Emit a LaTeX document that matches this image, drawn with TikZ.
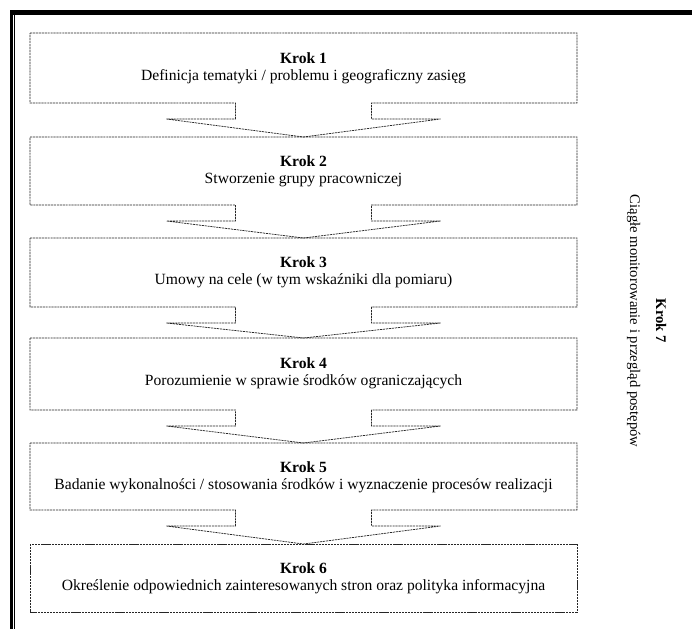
\documentclass[tikz,border=0pt]{standalone}
\usepackage{fontspec}
\setmainfont{Liberation Serif}
\begin{document}
\begin{tikzpicture}[x=0.75pt,y=-0.75pt,
  boxline/.style={draw=black!85,line width=0.55pt,dash pattern=on 1.6pt off 0.6pt},
  steptext/.style={align=center,font=\fontsize{11.7}{13}\selectfont,inner sep=0pt},
  sidetext/.style={align=center,font=\fontsize{11}{12.5}\selectfont,inner sep=0pt},
  pics/arrowbox/.style args={#1/#2}{code={
    \draw[boxline] (-273.5,0) -- (273.5,0) -- (273.5,#1) -- (68,#1) -- (68,#1+16)
      -- (137,#1+16) -- (0,#2) -- (-137,#1+16) -- (-68,#1+16) -- (-68,#1)
      -- (-273.5,#1) -- cycle;}},
  pics/plainbox/.style={code={
    \draw[boxline] (-273.5,0) rectangle (273.5,#1);}}
]
\useasboundingbox (0,0) rectangle (692,629);
% page frame
\fill (10,10) rectangle (692,14.5);
\fill (10,10) rectangle (12.6,629);
\draw[line width=0.8pt] (14.8,14.5) -- (14.8,629);
% boxes
\pic at (303.5,33)  {arrowbox={70/104}};
\pic at (303.5,137) {arrowbox={68/101}};
\pic at (303.5,238) {arrowbox={69/100}};
\pic at (303.5,338) {arrowbox={72/105}};
\pic at (303.5,443) {arrowbox={67/101}};
\pic at (303.5,544) {plainbox={68}};
% texts
\node[steptext] (k1) at (303.5,68)  {\textbf{Krok 1}\\Definicja tematyki / problemu i geograficzny zasięg};
\node[steptext] (k2) at (303.5,171) {\textbf{Krok 2}\\Stworzenie grupy pracowniczej};
\node[steptext] (k3) at (303.5,272) {\textbf{Krok 3}\\Umowy na cele (w tym wskaźniki dla pomiaru)};
\node[steptext] (k4) at (303.5,373) {\textbf{Krok 4}\\Porozumienie w sprawie środków ograniczających};
\node[steptext] (k5) at (303.5,477) {\textbf{Krok 5}\\Badanie wykonalności / stosowania środków i wyznaczenie procesów realizacji};
\node[steptext] (k6) at (303.5,578) {\textbf{Krok 6}\\Określenie odpowiednich zainteresowanych stron oraz polityka informacyjna};
\node[sidetext,rotate=-90] (k7) at (646.5,321) {\textbf{Krok 7}\\[7pt]Ciągłe monitorowanie i przegląd postępów};
\end{tikzpicture}
\end{document}
